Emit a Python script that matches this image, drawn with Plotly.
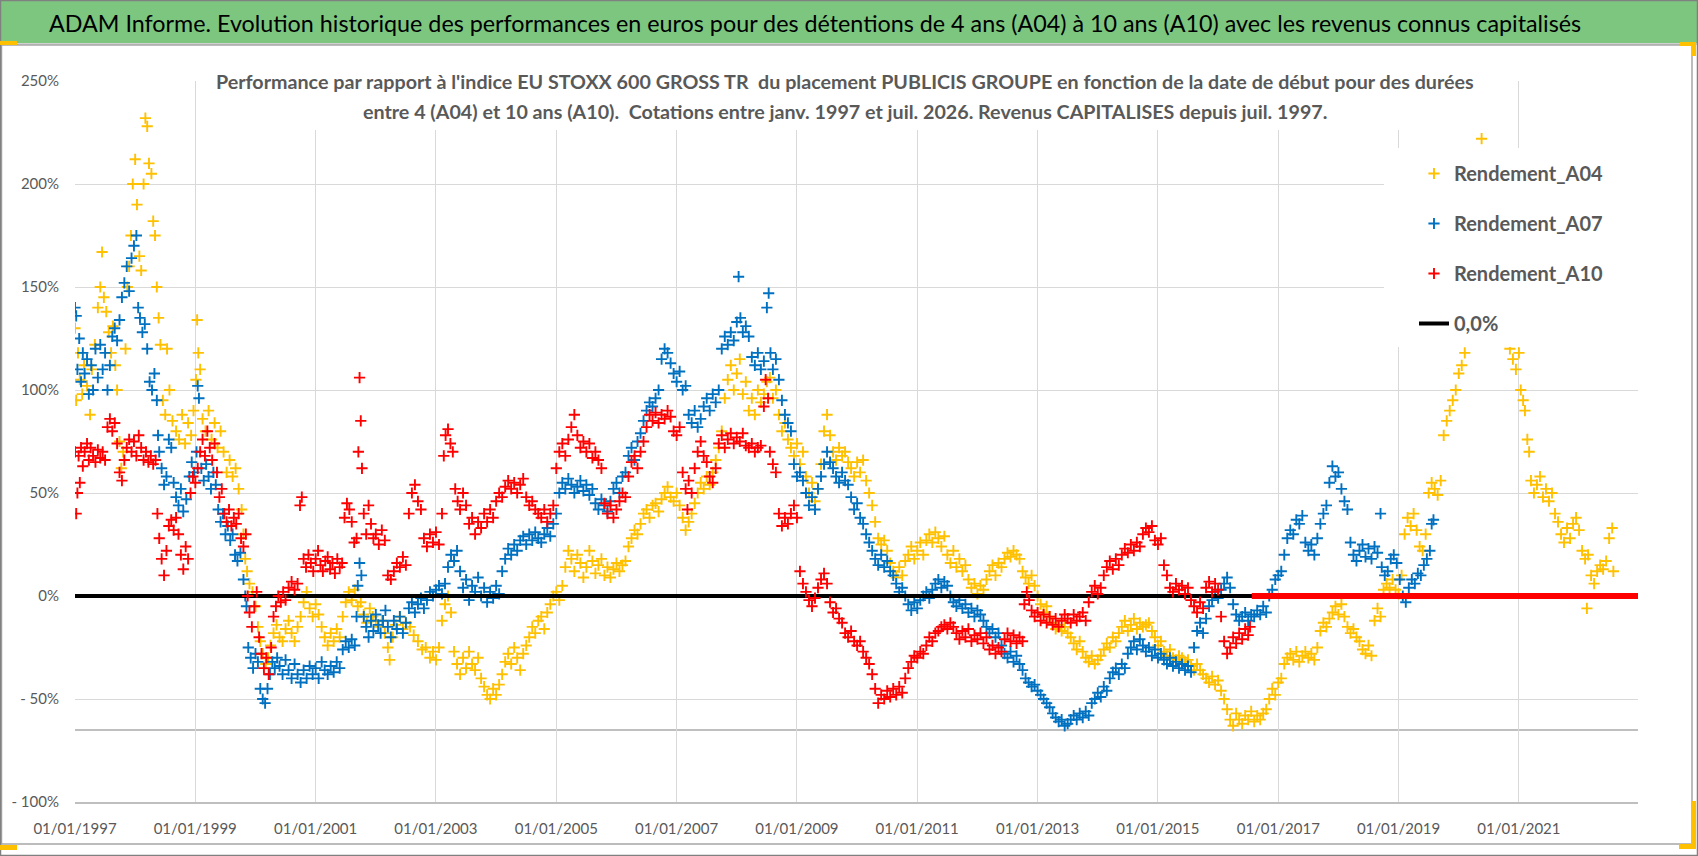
import pandas as pd
import plotly.graph_objects as go

W, H = 1698, 856
ML, MR, MT, MB = 75, 60, 81, 54

FONT = "Lato, Roboto, sans-serif"
GREY_TXT = "#595959"

# start date (decimal year) , performance vs index in %
a04 = [
    (1997.00, 130), (1997.02, 95), (1997.05, 118), (1997.08, 105), (1997.12, 98), (1997.15, 112), (1997.20, 102),
    (1997.25, 88), (1997.28, 110), (1997.33, 122), (1997.38, 140), (1997.42, 150), (1997.45, 167), (1997.48, 145),
    (1997.52, 138), (1997.56, 128), (1997.60, 118), (1997.63, 131), (1997.67, 112), (1997.70, 100), (1997.74, 75),
    (1997.77, 62), (1997.80, 70), (1997.84, 120), (1997.87, 150), (1997.90, 160), (1997.93, 175), (1997.96, 200),
    (1998.00, 212), (1998.03, 190), (1998.07, 165), (1998.10, 158), (1998.14, 200), (1998.17, 232), (1998.20, 228),
    (1998.23, 210), (1998.27, 205), (1998.30, 182), (1998.33, 175), (1998.36, 150), (1998.39, 135), (1998.42, 122),
    (1998.46, 95), (1998.50, 88), (1998.53, 120), (1998.57, 100), (1998.62, 85), (1998.68, 80), (1998.73, 76),
    (1998.78, 88), (1998.83, 74), (1998.88, 84), (1998.93, 78), (1998.97, 90), (1999.01, 105), (1999.03, 134),
    (1999.05, 118), (1999.08, 110), (1999.12, 86), (1999.17, 80), (1999.22, 90), (1999.27, 76), (1999.32, 84),
    (1999.37, 72), (1999.42, 80), (1999.47, 70), (1999.52, 60), (1999.57, 66), (1999.62, 58), (1999.67, 62),
    (1999.72, 52), (1999.77, 42), (1999.80, 30), (1999.83, 18), (1999.86, 12), (1999.90, 6), (1999.95, 2),
    (2000.00, -5), (2000.04, -15), (2000.08, -22), (2000.12, -28), (2000.17, -33), (2000.21, -30), (2000.25, -24),
    (2000.30, -18), (2000.35, -14), (2000.40, -20), (2000.45, -22), (2000.50, -16), (2000.55, -12), (2000.60, -18),
    (2000.65, -22), (2000.70, -15), (2000.75, -10), (2000.80, -3), (2000.85, 2), (2000.90, -6), (2000.95, -10),
    (2001.00, -4), (2001.05, -9), (2001.10, -15), (2001.15, -20), (2001.20, -24), (2001.25, -18), (2001.30, -22),
    (2001.35, -16), (2001.40, -20), (2001.45, -10), (2001.50, -3), (2001.55, 2), (2001.60, -2), (2001.65, 3),
    (2001.70, -5), (2001.75, -3), (2001.80, -9), (2001.85, -13), (2001.90, -6), (2001.95, -10), (2002.00, -12),
    (2002.05, -15), (2002.10, -12), (2002.15, -18), (2002.20, -25), (2002.23, -31), (2002.28, -20), (2002.33, -14),
    (2002.40, -10), (2002.45, -16), (2002.50, -13), (2002.57, -15), (2002.63, -19), (2002.70, -22), (2002.77, -26),
    (2002.83, -25), (2002.90, -30), (2002.95, -27), (2003.00, -31), (2003.05, -25), (2003.10, -12), (2003.15, -4),
    (2003.20, 0), (2003.25, -8), (2003.30, -27), (2003.35, -33), (2003.40, -38), (2003.45, -30), (2003.50, -35),
    (2003.55, -27), (2003.60, -33), (2003.65, -36), (2003.70, -30), (2003.75, -40), (2003.80, -44), (2003.85, -48),
    (2003.90, -50), (2003.95, -45), (2004.00, -48), (2004.05, -43), (2004.10, -38), (2004.15, -32), (2004.20, -28),
    (2004.25, -33), (2004.30, -25), (2004.35, -30), (2004.40, -36), (2004.45, -28), (2004.50, -24), (2004.55, -20),
    (2004.60, -15), (2004.65, -18), (2004.70, -12), (2004.75, -10), (2004.80, -16), (2004.85, -8), (2004.90, -4),
    (2004.95, 0), (2005.00, 2), (2005.05, -2), (2005.10, 5), (2005.15, 14), (2005.20, 22), (2005.25, 18),
    (2005.30, 12), (2005.35, 20), (2005.40, 16), (2005.45, 9), (2005.50, 14), (2005.55, 22), (2005.60, 17),
    (2005.65, 11), (2005.70, 15), (2005.75, 18), (2005.80, 10), (2005.85, 14), (2005.90, 9), (2005.95, 13),
    (2006.00, 16), (2006.05, 12), (2006.10, 15), (2006.15, 17), (2006.20, 24), (2006.25, 28), (2006.30, 32),
    (2006.35, 30), (2006.40, 35), (2006.45, 40), (2006.50, 42), (2006.55, 38), (2006.60, 44), (2006.65, 45),
    (2006.70, 41), (2006.75, 47), (2006.80, 50), (2006.85, 53), (2006.90, 48), (2006.95, 46), (2007.00, 50),
    (2007.05, 44), (2007.10, 38), (2007.15, 32), (2007.20, 36), (2007.25, 40), (2007.30, 45), (2007.35, 50),
    (2007.40, 55), (2007.45, 52), (2007.50, 58), (2007.55, 54), (2007.60, 60), (2007.65, 66), (2007.70, 72),
    (2007.75, 80), (2007.80, 96), (2007.85, 105), (2007.90, 112), (2007.95, 100), (2008.00, 108), (2008.05, 115),
    (2008.10, 98), (2008.15, 104), (2008.20, 90), (2008.25, 96), (2008.30, 88), (2008.35, 100), (2008.40, 94),
    (2008.45, 98), (2008.50, 104), (2008.55, 106), (2008.60, 96), (2008.65, 100), (2008.70, 88), (2008.75, 80),
    (2008.80, 84), (2008.85, 76), (2008.90, 72), (2008.95, 68), (2009.00, 74), (2009.05, 64), (2009.10, 70),
    (2009.15, 58), (2009.20, 50), (2009.25, 55), (2009.30, 46), (2009.35, 52), (2009.40, 64), (2009.45, 80),
    (2009.50, 88), (2009.55, 78), (2009.60, 70), (2009.65, 66), (2009.70, 72), (2009.75, 68), (2009.80, 70),
    (2009.85, 65), (2009.90, 62), (2009.95, 58), (2010.00, 65), (2010.05, 60), (2010.10, 66), (2010.15, 56),
    (2010.20, 50), (2010.25, 44), (2010.30, 36), (2010.35, 28), (2010.40, 25), (2010.45, 27), (2010.50, 22),
    (2010.55, 16), (2010.60, 12), (2010.65, 9), (2010.70, 14), (2010.75, 10), (2010.80, 17), (2010.85, 20),
    (2010.90, 24), (2010.95, 18), (2011.00, 22), (2011.05, 26), (2011.10, 20), (2011.15, 27), (2011.20, 30),
    (2011.25, 26), (2011.30, 31), (2011.35, 28), (2011.40, 24), (2011.45, 29), (2011.50, 20), (2011.55, 16),
    (2011.60, 22), (2011.65, 14), (2011.70, 18), (2011.75, 12), (2011.80, 15), (2011.85, 8), (2011.90, 4),
    (2011.95, 6), (2012.00, 1), (2012.05, 5), (2012.10, 3), (2012.15, 8), (2012.20, 12), (2012.25, 15),
    (2012.30, 10), (2012.35, 16), (2012.40, 14), (2012.45, 18), (2012.50, 21), (2012.55, 19), (2012.60, 22),
    (2012.65, 20), (2012.70, 18), (2012.75, 12), (2012.80, 9), (2012.85, 6), (2012.90, 10), (2012.95, 5),
    (2013.00, 0), (2013.05, -4), (2013.10, -8), (2013.15, -5), (2013.20, -10), (2013.25, -13), (2013.30, -16),
    (2013.35, -14), (2013.40, -17), (2013.45, -15), (2013.50, -18), (2013.55, -20), (2013.60, -23), (2013.65, -26),
    (2013.70, -22), (2013.75, -27), (2013.80, -30), (2013.85, -32), (2013.90, -29), (2013.95, -33), (2014.00, -31),
    (2014.05, -29), (2014.10, -26), (2014.15, -23), (2014.20, -25), (2014.25, -20), (2014.30, -22), (2014.35, -18),
    (2014.40, -15), (2014.45, -12), (2014.50, -17), (2014.55, -14), (2014.60, -11), (2014.65, -16), (2014.70, -13),
    (2014.75, -15), (2014.80, -14), (2014.85, -13), (2014.90, -17), (2014.95, -20), (2015.00, -24), (2015.05, -22),
    (2015.10, -27), (2015.15, -29), (2015.20, -26), (2015.25, -30), (2015.30, -31), (2015.35, -29), (2015.40, -30),
    (2015.45, -32), (2015.50, -31), (2015.55, -34), (2015.60, -36), (2015.65, -33), (2015.70, -36), (2015.75, -38),
    (2015.80, -40), (2015.85, -42), (2015.90, -39), (2015.95, -43), (2016.00, -41), (2016.05, -46), (2016.10, -50),
    (2016.15, -55), (2016.20, -60), (2016.25, -63), (2016.30, -57), (2016.35, -60), (2016.40, -62), (2016.45, -58),
    (2016.50, -60), (2016.55, -56), (2016.60, -61), (2016.65, -58), (2016.70, -60), (2016.75, -57), (2016.80, -55),
    (2016.85, -50), (2016.90, -45), (2016.95, -48), (2017.00, -42), (2017.05, -40), (2017.10, -33), (2017.15, -30),
    (2017.20, -28), (2017.25, -31), (2017.30, -27), (2017.35, -32), (2017.40, -29), (2017.45, -27), (2017.50, -30),
    (2017.55, -28), (2017.60, -31), (2017.65, -25), (2017.70, -17), (2017.75, -13), (2017.80, -15), (2017.85, -11),
    (2017.90, -8), (2017.95, -5), (2018.00, -9), (2018.05, -4), (2018.10, -10), (2018.15, -15), (2018.20, -18),
    (2018.25, -16), (2018.30, -20), (2018.35, -22), (2018.40, -26), (2018.45, -28), (2018.50, -24), (2018.55, -29),
    (2018.60, -12), (2018.65, -6), (2018.70, -10), (2018.75, 3), (2018.80, 6), (2018.85, 4), (2018.90, 8),
    (2018.95, 3), (2019.00, 1), (2019.05, 10), (2019.10, 30), (2019.15, 38), (2019.20, 34), (2019.25, 40),
    (2019.30, 32), (2019.35, 24), (2019.40, 22), (2019.45, 30), (2019.50, 50), (2019.55, 55), (2019.60, 52),
    (2019.65, 49), (2019.70, 56), (2019.75, 78), (2019.80, 85), (2019.85, 90), (2019.90, 95), (2019.95, 100),
    (2020.00, 108), (2020.05, 112), (2020.10, 118), (2020.15, 130), (2020.20, 150), (2020.25, 170), (2020.30, 190),
    (2020.35, 210), (2020.38, 222), (2020.45, 205), (2020.55, 185), (2020.65, 165), (2020.75, 140), (2020.85, 120),
    (2020.90, 115), (2020.95, 110), (2021.00, 118), (2021.03, 100), (2021.07, 95), (2021.10, 90), (2021.14, 76),
    (2021.17, 70), (2021.20, 56), (2021.25, 50), (2021.30, 54), (2021.35, 58), (2021.40, 48), (2021.45, 52),
    (2021.50, 46), (2021.55, 50), (2021.60, 40), (2021.65, 36), (2021.70, 30), (2021.75, 26), (2021.80, 33),
    (2021.85, 28), (2021.90, 35), (2021.95, 38), (2022.00, 32), (2022.05, 22), (2022.10, 18), (2022.13, -6),
    (2022.15, 20), (2022.20, 10), (2022.25, 6), (2022.30, 12), (2022.35, 15), (2022.40, 13), (2022.45, 17),
    (2022.50, 28), (2022.55, 33), (2022.57, 12),
]

a07 = [
    (1997.00, 140), (1997.02, 136), (1997.04, 110), (1997.07, 125), (1997.10, 104), (1997.13, 118), (1997.16, 108),
    (1997.20, 115), (1997.23, 98), (1997.27, 112), (1997.30, 100), (1997.34, 120), (1997.38, 106), (1997.42, 122),
    (1997.46, 110), (1997.50, 118), (1997.54, 100), (1997.58, 112), (1997.62, 126), (1997.66, 130), (1997.70, 124),
    (1997.74, 134), (1997.78, 145), (1997.82, 152), (1997.86, 160), (1997.90, 148), (1997.94, 164), (1997.98, 170),
    (1998.02, 175), (1998.05, 140), (1998.08, 135), (1998.12, 128), (1998.16, 132), (1998.20, 120), (1998.24, 104),
    (1998.28, 100), (1998.32, 108), (1998.36, 95), (1998.38, 78), (1998.40, 70), (1998.44, 62), (1998.48, 54),
    (1998.52, 58), (1998.56, 76), (1998.60, 72), (1998.64, 55), (1998.68, 48), (1998.72, 44), (1998.76, 52),
    (1998.80, 41), (1998.85, 47), (1998.90, 58), (1998.94, 65), (1998.98, 60), (1999.02, 70), (1999.04, 102),
    (1999.06, 96), (1999.10, 62), (1999.14, 56), (1999.18, 64), (1999.22, 58), (1999.26, 52), (1999.30, 60),
    (1999.34, 54), (1999.38, 42), (1999.42, 36), (1999.46, 40), (1999.50, 30), (1999.54, 34), (1999.58, 27),
    (1999.62, 30), (1999.66, 20), (1999.70, 17), (1999.75, 21), (1999.80, 8), (1999.83, 0), (1999.85, -5),
    (1999.88, -25), (1999.92, -30), (1999.96, -35), (2000.00, -28), (2000.04, -32), (2000.08, -45), (2000.12, -50),
    (2000.16, -52), (2000.20, -45), (2000.24, -38), (2000.28, -32), (2000.32, -35), (2000.36, -30), (2000.40, -34),
    (2000.45, -38), (2000.50, -31), (2000.55, -36), (2000.60, -40), (2000.65, -33), (2000.70, -38), (2000.75, -42),
    (2000.80, -36), (2000.85, -40), (2000.90, -34), (2000.95, -38), (2001.00, -35), (2001.05, -40), (2001.10, -32),
    (2001.15, -36), (2001.20, -38), (2001.25, -34), (2001.30, -37), (2001.35, -32), (2001.40, -35), (2001.45, -26),
    (2001.50, -22), (2001.55, -25), (2001.60, -21), (2001.65, -24), (2001.68, -10), (2001.70, 5), (2001.73, 16),
    (2001.76, 10), (2001.80, -10), (2001.84, -15), (2001.88, -20), (2001.92, -12), (2001.96, -17), (2002.00, -9),
    (2002.04, -14), (2002.08, -18), (2002.12, -12), (2002.16, -7), (2002.20, -15), (2002.25, -20), (2002.30, -12),
    (2002.35, -16), (2002.40, -10), (2002.45, -18), (2002.50, -13), (2002.55, -6), (2002.60, -3), (2002.65, -8),
    (2002.70, -4), (2002.75, -1), (2002.80, -6), (2002.85, -2), (2002.90, 2), (2002.95, 0), (2003.00, 3),
    (2003.05, 5), (2003.10, 1), (2003.15, 6), (2003.20, 14), (2003.25, 20), (2003.30, 17), (2003.35, 22),
    (2003.40, 12), (2003.45, 4), (2003.50, 8), (2003.55, -2), (2003.60, 5), (2003.65, 2), (2003.70, 9),
    (2003.75, 0), (2003.80, 4), (2003.85, -3), (2003.90, 2), (2003.95, -1), (2004.00, 5), (2004.05, 1),
    (2004.10, 12), (2004.15, 18), (2004.20, 23), (2004.25, 20), (2004.30, 25), (2004.35, 22), (2004.40, 27),
    (2004.45, 29), (2004.50, 25), (2004.55, 30), (2004.60, 27), (2004.65, 31), (2004.70, 28), (2004.75, 26),
    (2004.80, 30), (2004.85, 33), (2004.90, 29), (2004.95, 35), (2005.00, 40), (2005.05, 50), (2005.10, 55),
    (2005.15, 52), (2005.20, 57), (2005.25, 54), (2005.30, 50), (2005.35, 53), (2005.40, 56), (2005.45, 51),
    (2005.50, 54), (2005.55, 49), (2005.60, 52), (2005.65, 45), (2005.70, 42), (2005.75, 47), (2005.80, 44),
    (2005.85, 41), (2005.90, 46), (2005.95, 52), (2006.00, 55), (2006.05, 50), (2006.10, 58), (2006.15, 60),
    (2006.20, 68), (2006.25, 72), (2006.30, 66), (2006.35, 75), (2006.40, 79), (2006.45, 85), (2006.50, 90),
    (2006.55, 94), (2006.60, 92), (2006.65, 96), (2006.70, 100), (2006.75, 115), (2006.80, 120), (2006.85, 118),
    (2006.90, 113), (2006.95, 108), (2007.00, 104), (2007.05, 109), (2007.10, 100), (2007.15, 102), (2007.20, 88),
    (2007.25, 84), (2007.30, 90), (2007.35, 82), (2007.40, 86), (2007.45, 92), (2007.50, 96), (2007.55, 90),
    (2007.60, 98), (2007.65, 94), (2007.70, 100), (2007.75, 120), (2007.80, 126), (2007.85, 122), (2007.90, 128),
    (2007.95, 124), (2008.00, 133), (2008.03, 155), (2008.06, 135), (2008.10, 128), (2008.15, 131), (2008.20, 126),
    (2008.25, 116), (2008.30, 112), (2008.35, 118), (2008.40, 110), (2008.45, 114), (2008.50, 140), (2008.53, 147),
    (2008.56, 118), (2008.60, 110), (2008.65, 115), (2008.70, 105), (2008.75, 95), (2008.80, 88), (2008.85, 84),
    (2008.90, 80), (2008.95, 64), (2009.00, 58), (2009.05, 60), (2009.10, 56), (2009.15, 50), (2009.20, 44),
    (2009.25, 48), (2009.30, 42), (2009.35, 52), (2009.40, 58), (2009.45, 64), (2009.50, 70), (2009.55, 65),
    (2009.60, 62), (2009.65, 58), (2009.70, 55), (2009.75, 60), (2009.80, 56), (2009.85, 54), (2009.90, 48),
    (2009.95, 42), (2010.00, 45), (2010.05, 38), (2010.10, 35), (2010.15, 30), (2010.20, 26), (2010.25, 22),
    (2010.30, 18), (2010.35, 15), (2010.40, 20), (2010.45, 14), (2010.50, 17), (2010.55, 12), (2010.60, 10),
    (2010.65, 6), (2010.70, 2), (2010.75, 4), (2010.80, 0), (2010.85, -4), (2010.90, -7), (2010.95, -3),
    (2011.00, -6), (2011.05, -2), (2011.10, 0), (2011.15, 2), (2011.20, -1), (2011.25, 3), (2011.30, 6),
    (2011.35, 8), (2011.40, 4), (2011.45, 7), (2011.50, 5), (2011.55, 0), (2011.60, -3), (2011.65, -5),
    (2011.70, -2), (2011.75, -6), (2011.80, -4), (2011.85, -8), (2011.90, -6), (2011.95, -10), (2012.00, -7),
    (2012.05, -9), (2012.10, -12), (2012.15, -15), (2012.20, -18), (2012.25, -16), (2012.30, -20), (2012.35, -18),
    (2012.40, -24), (2012.45, -28), (2012.50, -30), (2012.55, -27), (2012.60, -32), (2012.65, -29), (2012.70, -33),
    (2012.75, -36), (2012.80, -40), (2012.85, -42), (2012.90, -44), (2012.95, -43), (2013.00, -46), (2013.05, -48),
    (2013.10, -50), (2013.15, -52), (2013.20, -54), (2013.25, -57), (2013.30, -59), (2013.35, -61), (2013.40, -60),
    (2013.45, -63), (2013.50, -62), (2013.55, -60), (2013.60, -58), (2013.65, -60), (2013.70, -57), (2013.75, -59),
    (2013.80, -56), (2013.85, -58), (2013.90, -52), (2013.95, -50), (2014.00, -47), (2014.05, -49), (2014.10, -44),
    (2014.15, -46), (2014.20, -40), (2014.25, -37), (2014.30, -35), (2014.35, -38), (2014.40, -33), (2014.45, -35),
    (2014.50, -28), (2014.55, -25), (2014.60, -22), (2014.65, -26), (2014.70, -21), (2014.75, -24), (2014.80, -27),
    (2014.85, -25), (2014.90, -29), (2014.95, -26), (2015.00, -30), (2015.05, -28), (2015.10, -31), (2015.15, -33),
    (2015.20, -30), (2015.25, -34), (2015.30, -32), (2015.35, -35), (2015.40, -33), (2015.45, -36), (2015.50, -34),
    (2015.55, -37), (2015.60, -25), (2015.65, -17), (2015.70, -13), (2015.75, -18), (2015.80, -11), (2015.85, -5),
    (2015.90, -2), (2015.95, 2), (2016.00, -1), (2016.05, 3), (2016.10, 6), (2016.15, 9), (2016.20, 4),
    (2016.25, -4), (2016.30, -9), (2016.35, -12), (2016.40, -10), (2016.45, -8), (2016.50, -12), (2016.55, -9),
    (2016.60, -10), (2016.65, -7), (2016.70, -9), (2016.75, -5), (2016.80, -8), (2016.85, 0), (2016.90, 3),
    (2016.95, 8), (2017.00, 10), (2017.05, 12), (2017.10, 20), (2017.15, 28), (2017.20, 32), (2017.25, 30),
    (2017.30, 37), (2017.35, 35), (2017.40, 39), (2017.45, 26), (2017.50, 22), (2017.55, 25), (2017.60, 20),
    (2017.65, 28), (2017.70, 35), (2017.75, 40), (2017.80, 44), (2017.85, 55), (2017.90, 63), (2017.95, 58),
    (2018.00, 60), (2018.05, 52), (2018.10, 46), (2018.15, 42), (2018.20, 26), (2018.25, 20), (2018.30, 17),
    (2018.35, 22), (2018.40, 25), (2018.45, 19), (2018.50, 23), (2018.55, 18), (2018.60, 24), (2018.65, 21),
    (2018.70, 40), (2018.72, 14), (2018.77, 10), (2018.82, 12), (2018.87, 18), (2018.92, 20), (2018.97, 16),
    (2019.02, 8), (2019.07, 0), (2019.12, -3), (2019.17, 4), (2019.22, 8), (2019.27, 6), (2019.32, 11),
    (2019.37, 10), (2019.42, 15), (2019.47, 18), (2019.52, 22), (2019.55, 35), (2019.58, 37),
]

a10 = [
    (1997.00, 70), (1997.02, 40), (1997.04, 50), (1997.06, 68), (1997.08, 55), (1997.10, 72), (1997.13, 63),
    (1997.16, 70), (1997.20, 74), (1997.23, 66), (1997.26, 72), (1997.30, 68), (1997.34, 65), (1997.38, 71),
    (1997.42, 67), (1997.46, 70), (1997.50, 66), (1997.54, 82), (1997.58, 86), (1997.62, 80), (1997.66, 84),
    (1997.70, 74), (1997.74, 60), (1997.78, 56), (1997.82, 66), (1997.86, 72), (1997.90, 76), (1997.94, 70),
    (1997.98, 75), (1998.02, 68), (1998.06, 78), (1998.10, 72), (1998.14, 66), (1998.18, 70), (1998.22, 65),
    (1998.26, 68), (1998.30, 64), (1998.34, 66), (1998.37, 40), (1998.40, 28), (1998.44, 18), (1998.48, 10),
    (1998.52, 22), (1998.56, 34), (1998.60, 37), (1998.64, 32), (1998.68, 38), (1998.72, 30), (1998.76, 20),
    (1998.80, 13), (1998.84, 24), (1998.88, 18), (1998.92, 50), (1998.96, 58), (1999.00, 55), (1999.04, 62),
    (1999.08, 70), (1999.12, 76), (1999.16, 68), (1999.20, 80), (1999.24, 72), (1999.28, 66), (1999.32, 74),
    (1999.36, 60), (1999.40, 48), (1999.44, 52), (1999.48, 40), (1999.52, 36), (1999.56, 42), (1999.60, 34),
    (1999.64, 38), (1999.68, 35), (1999.72, 40), (1999.76, 28), (1999.80, 24), (1999.84, 30), (1999.87, 0),
    (1999.90, -8), (1999.94, -15), (1999.98, -5), (2000.02, 2), (2000.06, -20), (2000.10, -28), (2000.14, -35),
    (2000.18, -30), (2000.22, -38), (2000.26, -25), (2000.30, -10), (2000.34, -5), (2000.38, 0), (2000.42, -3),
    (2000.46, 2), (2000.50, -2), (2000.55, 4), (2000.60, 7), (2000.65, 3), (2000.70, 6), (2000.74, 44),
    (2000.77, 48), (2000.80, 18), (2000.84, 14), (2000.88, 20), (2000.92, 16), (2000.96, 12), (2001.00, 18),
    (2001.04, 22), (2001.08, 15), (2001.12, 12), (2001.16, 17), (2001.20, 19), (2001.24, 13), (2001.28, 16),
    (2001.32, 11), (2001.36, 18), (2001.40, 14), (2001.44, 16), (2001.48, 38), (2001.52, 45), (2001.56, 42),
    (2001.60, 36), (2001.64, 26), (2001.68, 28), (2001.71, 70), (2001.73, 106), (2001.75, 85), (2001.77, 62),
    (2001.80, 40), (2001.84, 30), (2001.88, 44), (2001.92, 35), (2001.96, 28), (2002.00, 30), (2002.05, 25),
    (2002.10, 32), (2002.15, 27), (2002.20, 10), (2002.25, 8), (2002.30, 12), (2002.35, 16), (2002.40, 14),
    (2002.45, 19), (2002.50, 15), (2002.55, 40), (2002.60, 50), (2002.65, 54), (2002.70, 46), (2002.75, 42),
    (2002.80, 28), (2002.85, 24), (2002.90, 30), (2002.95, 26), (2003.00, 31), (2003.05, 25), (2003.10, 40),
    (2003.13, 68), (2003.16, 78), (2003.20, 81), (2003.24, 74), (2003.28, 70), (2003.32, 52), (2003.36, 46),
    (2003.40, 42), (2003.45, 50), (2003.50, 44), (2003.55, 35), (2003.60, 38), (2003.65, 30), (2003.70, 36),
    (2003.75, 33), (2003.80, 40), (2003.85, 36), (2003.90, 42), (2003.95, 38), (2004.00, 46), (2004.05, 50),
    (2004.10, 48), (2004.15, 53), (2004.20, 56), (2004.25, 52), (2004.30, 55), (2004.35, 50), (2004.40, 54),
    (2004.45, 57), (2004.50, 48), (2004.55, 44), (2004.60, 46), (2004.65, 42), (2004.70, 40), (2004.75, 38),
    (2004.80, 42), (2004.85, 36), (2004.90, 40), (2004.95, 44), (2005.00, 62), (2005.05, 70), (2005.10, 74),
    (2005.15, 68), (2005.20, 76), (2005.25, 82), (2005.30, 88), (2005.35, 78), (2005.40, 72), (2005.45, 75),
    (2005.50, 70), (2005.55, 74), (2005.60, 67), (2005.65, 70), (2005.70, 66), (2005.75, 62), (2005.80, 45),
    (2005.85, 40), (2005.90, 44), (2005.95, 38), (2006.00, 42), (2006.05, 46), (2006.10, 50), (2006.15, 48),
    (2006.20, 58), (2006.25, 65), (2006.30, 68), (2006.35, 62), (2006.40, 70), (2006.45, 75), (2006.50, 82),
    (2006.55, 88), (2006.60, 85), (2006.65, 89), (2006.70, 84), (2006.75, 88), (2006.80, 86), (2006.85, 90),
    (2006.90, 87), (2006.95, 80), (2007.00, 78), (2007.05, 82), (2007.10, 60), (2007.15, 52), (2007.18, 42),
    (2007.20, 56), (2007.25, 50), (2007.30, 62), (2007.35, 70), (2007.40, 75), (2007.45, 68), (2007.50, 65),
    (2007.55, 58), (2007.60, 55), (2007.65, 62), (2007.70, 74), (2007.75, 78), (2007.80, 72), (2007.85, 76),
    (2007.90, 79), (2007.95, 74), (2008.00, 77), (2008.05, 75), (2008.10, 79), (2008.15, 73), (2008.20, 72),
    (2008.25, 74), (2008.30, 70), (2008.35, 72), (2008.40, 73), (2008.45, 92), (2008.48, 105), (2008.52, 96),
    (2008.55, 70), (2008.60, 64), (2008.65, 60), (2008.70, 40), (2008.75, 34), (2008.80, 38), (2008.85, 35),
    (2008.90, 40), (2008.95, 44), (2009.00, 38), (2009.05, 12), (2009.10, 6), (2009.15, 2), (2009.20, -2),
    (2009.25, -5), (2009.30, -1), (2009.35, 4), (2009.40, 8), (2009.45, 11), (2009.50, 6), (2009.55, -3),
    (2009.60, -8), (2009.65, -6), (2009.70, -11), (2009.75, -13), (2009.80, -18), (2009.85, -20), (2009.90, -17),
    (2009.95, -22), (2010.00, -24), (2010.05, -22), (2010.10, -27), (2010.15, -30), (2010.20, -33), (2010.25, -38),
    (2010.30, -45), (2010.35, -52), (2010.40, -48), (2010.45, -50), (2010.50, -46), (2010.55, -49), (2010.60, -45),
    (2010.65, -48), (2010.70, -44), (2010.75, -47), (2010.80, -40), (2010.85, -35), (2010.90, -32), (2010.95, -29),
    (2011.00, -30), (2011.05, -27), (2011.10, -28), (2011.15, -24), (2011.20, -20), (2011.25, -22), (2011.30, -18),
    (2011.35, -17), (2011.40, -15), (2011.45, -14), (2011.50, -16), (2011.55, -13), (2011.60, -15), (2011.65, -18),
    (2011.70, -21), (2011.75, -17), (2011.80, -20), (2011.85, -16), (2011.90, -22), (2011.95, -19), (2012.00, -21),
    (2012.05, -18), (2012.10, -23), (2012.15, -20), (2012.20, -26), (2012.25, -24), (2012.30, -28), (2012.35, -25),
    (2012.40, -27), (2012.45, -21), (2012.50, -18), (2012.55, -22), (2012.60, -19), (2012.65, -23), (2012.70, -20),
    (2012.75, -22), (2012.78, -4), (2012.82, 2), (2012.86, -2), (2012.90, -7), (2012.95, -10), (2013.00, -8),
    (2013.05, -12), (2013.10, -9), (2013.15, -13), (2013.20, -10), (2013.25, -14), (2013.30, -11), (2013.35, -15),
    (2013.40, -12), (2013.45, -9), (2013.50, -11), (2013.55, -13), (2013.60, -9), (2013.65, -12), (2013.70, -10),
    (2013.75, -8), (2013.80, -12), (2013.85, -3), (2013.90, 2), (2013.95, 5), (2014.00, 1), (2014.05, 4),
    (2014.10, 10), (2014.15, 14), (2014.20, 17), (2014.25, 13), (2014.30, 18), (2014.35, 15), (2014.40, 20),
    (2014.45, 23), (2014.50, 21), (2014.55, 25), (2014.60, 22), (2014.65, 26), (2014.70, 24), (2014.75, 30),
    (2014.80, 33), (2014.85, 31), (2014.90, 34), (2014.95, 27), (2015.00, 25), (2015.05, 28), (2015.10, 15),
    (2015.15, 10), (2015.20, 4), (2015.25, 2), (2015.30, 6), (2015.35, 3), (2015.40, 5), (2015.45, 1),
    (2015.50, 4), (2015.55, -2), (2015.60, -5), (2015.65, -8), (2015.70, -3), (2015.75, -6), (2015.80, 4),
    (2015.85, 7), (2015.90, 2), (2015.95, 6), (2016.00, 3), (2016.05, -10), (2016.10, -22), (2016.15, -28),
    (2016.20, -25), (2016.25, -20), (2016.30, -23), (2016.35, -18), (2016.40, -21), (2016.45, -16), (2016.50, -19),
    (2016.53, -15),
]

# 10-year window not available after mid-2016: value stays at 0
a10_tail_t = [2016.56, 2022.98]
a10_tail_v = [0, 0]

ref_t = [1997.0, 2022.98]
ref_v = [0, 0]

y_ticks = [-100, -50, 0, 50, 100, 150, 200, 250]
y_labels = ["- 100%", "- 50%", "0%", "50%", "100%", "150%", "200%", "250%"]

AXIS_LINE_65 = -65


def to_date(years):
    base = pd.Timestamp("1997-01-01")
    return [base + pd.Timedelta(days=(y - 1997) * 365.25) for y in years]


def px_x(x):
    return (x - ML) / (W - ML - MR)


def px_y(y):
    return 1 - (y - MT) / (H - MT - MB)


def cloud(points, name, color, rank):
    t, v = zip(*points)
    return go.Scatter(
        x=to_date(t), y=list(v), mode="markers", name=name,
        legendgroup=name, legendrank=rank,
        marker=dict(symbol="cross-thin", size=8, color=color,
                    line=dict(color=color, width=1.9)),
    )


fig = go.Figure()
fig.add_trace(cloud(a04, "Rendement_A04", "#FFC000", 1))
fig.add_trace(cloud(a07, "Rendement_A07", "#0070C0", 2))
fig.add_trace(go.Scatter(
    x=to_date(ref_t), y=ref_v, mode="lines", name="0,0%",
    legendgroup="ref", legendrank=4,
    line=dict(color="black", width=4),
))
fig.add_trace(cloud(a10, "Rendement_A10", "#FF0000", 3))
fig.add_trace(go.Scatter(
    x=to_date(a10_tail_t), y=a10_tail_v, mode="lines", showlegend=False,
    legendgroup="Rendement_A10", line=dict(color="#FF0000", width=6),
))

shapes = [
    # green title band
    dict(type="rect", xref="paper", yref="paper", x0=px_x(1), x1=px_x(1697), y0=px_y(43), y1=px_y(1),
         fillcolor="#7DC67F", line=dict(width=0), layer="below"),
    dict(type="line", xref="paper", yref="paper", x0=px_x(1), x1=px_x(1697), y0=px_y(44), y1=px_y(44),
         line=dict(color="#D0D0D0", width=2)),
    # chart area border
    dict(type="rect", xref="paper", yref="paper", x0=px_x(1.5), x1=px_x(1692), y0=px_y(844), y1=px_y(45),
         line=dict(color="#A6A6A6", width=1.5)),
    # image border
    dict(type="rect", xref="paper", yref="paper", x0=px_x(0.5), x1=px_x(1697.5), y0=px_y(855.5), y1=px_y(0.5),
         line=dict(color="#808080", width=1.5)),
    # selection handles
    dict(type="rect", xref="paper", yref="paper", x0=px_x(0), x1=px_x(17), y0=px_y(45), y1=px_y(41),
         fillcolor="#FFC000", line=dict(width=0)),
    dict(type="rect", xref="paper", yref="paper", x0=px_x(0), x1=px_x(17), y0=px_y(850), y1=px_y(845),
         fillcolor="#FFC000", line=dict(width=0)),
    dict(type="rect", xref="paper", yref="paper", x0=px_x(1691), x1=px_x(1696), y0=px_y(56), y1=px_y(42),
         fillcolor="#FFC000", line=dict(width=0)),
    dict(type="rect", xref="paper", yref="paper", x0=px_x(1680), x1=px_x(1696), y0=px_y(46), y1=px_y(42),
         fillcolor="#FFC000", line=dict(width=0)),
    dict(type="rect", xref="paper", yref="paper", x0=px_x(1691), x1=px_x(1696), y0=px_y(849), y1=px_y(801),
         fillcolor="#FFC000", line=dict(width=0)),
    dict(type="rect", xref="paper", yref="paper", x0=px_x(1679), x1=px_x(1696), y0=px_y(849), y1=px_y(844),
         fillcolor="#FFC000", line=dict(width=0)),
    # odd horizontal axis line near -65%
    dict(type="line", xref="paper", yref="y", x0=0, x1=1, y0=AXIS_LINE_65, y1=AXIS_LINE_65,
         line=dict(color="#BFBFBF", width=2), layer="below"),
    # white boxes behind subtitle and legend
    dict(type="rect", xref="paper", yref="paper", x0=px_x(197), x1=px_x(1490), y0=px_y(130), y1=px_y(66),
         fillcolor="white", line=dict(width=0), layer="above"),
    dict(type="rect", xref="paper", yref="paper", x0=px_x(1384), x1=px_x(1640), y0=px_y(347), y1=px_y(148),
         fillcolor="white", line=dict(width=0), layer="above"),
]

annotations = [
    dict(text="ADAM Informe. Evolution historique des performances en euros pour des détentions de 4 ans (A04) "
              "à 10 ans (A10) avec les revenus connus capitalisés",
         xref="paper", yref="paper", x=px_x(815), y=px_y(23), xanchor="center", yanchor="middle",
         showarrow=False, font=dict(family=FONT, size=23.3, color="black")),
    dict(text="Performance par rapport à l'indice EU STOXX 600 GROSS TR  du placement PUBLICIS GROUPE "
              "en fonction de la date de début pour des durées",
         xref="paper", yref="paper", x=px_x(845), y=px_y(81), xanchor="center", yanchor="middle",
         showarrow=False, font=dict(family=FONT, size=19.7, color=GREY_TXT, weight="bold")),
    dict(text="entre 4 (A04) et 10 ans (A10).  Cotations entre janv. 1997 et juil. 2026. "
              "Revenus CAPITALISES depuis juil. 1997.",
         xref="paper", yref="paper", x=px_x(845), y=px_y(112), xanchor="center", yanchor="middle",
         showarrow=False, font=dict(family=FONT, size=19.7, color=GREY_TXT, weight="bold")),
]

fig.update_layout(
    width=W, height=H,
    margin=dict(l=ML, r=MR, t=MT, b=MB, pad=0),
    paper_bgcolor="white", plot_bgcolor="white",
    showlegend=True,
    legend=dict(x=px_x(1414), y=px_y(154), xanchor="left", yanchor="top",
                bgcolor="rgba(0,0,0,0)", tracegroupgap=21,
                font=dict(family=FONT, size=20, color=GREY_TXT, weight="bold")),
    xaxis=dict(type="date", range=["1997-01-01", "2022-12-25"], tick0="1997-01-01", dtick="M24",
               tickformat="%d/%m/%Y", showgrid=True, gridcolor="#D9D9D9", gridwidth=1,
               zeroline=False, showline=True, linecolor="#BFBFBF", linewidth=2, ticks="",
               ticklabelstandoff=12, tickfont=dict(family=FONT, size=15, color=GREY_TXT)),
    yaxis=dict(range=[-100, 250], tickvals=y_ticks, ticktext=y_labels,
               showgrid=True, gridcolor="#D9D9D9", gridwidth=1, zeroline=False, showline=False,
               ticks="", ticklabelstandoff=15, tickfont=dict(family=FONT, size=15, color=GREY_TXT)),
    shapes=shapes, annotations=annotations,
)

fig.write_html("out.html", config={"displayModeBar": False},
               post_script="document.body.style.margin='0';document.body.style.overflow='hidden';")
